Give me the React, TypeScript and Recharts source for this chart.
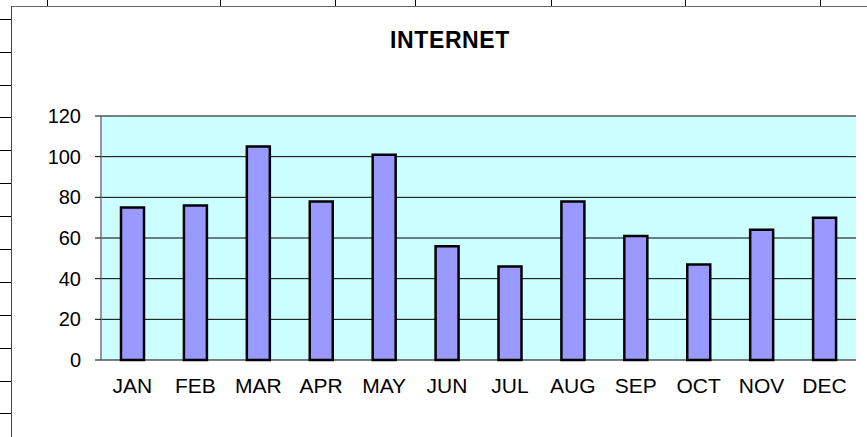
import { BarChart, Bar, XAxis, YAxis, CartesianGrid } from 'recharts'

const months = ['JAN', 'FEB', 'MAR', 'APR', 'MAY', 'JUN', 'JUL', 'AUG', 'SEP', 'OCT', 'NOV', 'DEC']
const internet = [75, 76, 105, 78, 101, 56, 46, 78, 61, 47, 64, 70]
const yTicks = [0, 20, 40, 60, 80, 100, 120]

const data = months.map((month, i) => ({ month, internet: internet[i] }))
// category boundaries for the tick marks between months
const boundaryTicks = [...months.map((_, i) => i), months.length]

// spreadsheet cell lines peeking out round the chart object
const sheetRows = [19, 52, 85, 117, 150, 183, 216, 249, 282, 315, 348, 381, 413]
const sheetCols = [47, 220, 335, 415, 551, 685, 820]

const font = '"Liberation Sans", Arial, sans-serif'

export default function App() {
  return (
    <div style={{ position: 'absolute', left: 0, top: 0, width: 867, height: 437, overflow: 'hidden', background: '#fff', fontFamily: font }}>
      {sheetRows.map((y) => (
        <div key={'r' + y} style={{ position: 'absolute', left: 0, top: y, width: 11, height: 1, background: '#000' }} />
      ))}
      {sheetCols.map((x) => (
        <div key={'c' + x} style={{ position: 'absolute', left: x, top: 0, width: 1, height: 6, background: '#000' }} />
      ))}
      <div style={{ position: 'absolute', left: 11, top: 6, width: 900, height: 500, borderLeft: '1px solid #444', borderTop: '1px solid #666' }} />
      <div style={{ position: 'absolute', left: 350, top: 29, width: 200, textAlign: 'center', fontWeight: 'bold', fontSize: 23, lineHeight: '23px', letterSpacing: 0.6 }}>
        INTERNET
      </div>
      <BarChart
        width={867}
        height={437}
        data={data}
        margin={{ top: 116, right: 11, left: 0, bottom: 47 }}
        style={{ position: 'absolute', left: 0, top: 0 }}
      >
        <CartesianGrid vertical={false} fill="#CCFFFF" stroke="#000" strokeOpacity={1} />
        <XAxis
          xAxisId="edges"
          type="number"
          domain={[0, months.length]}
          ticks={boundaryTicks}
          tick={false}
          tickSize={6}
          height={0}
          axisLine={{ stroke: '#777', strokeWidth: 1.5 }}
          tickLine={{ stroke: '#444' }}
        />
        <XAxis
          xAxisId="cat"
          dataKey="month"
          height={30}
          axisLine={false}
          tickLine={false}
          tickSize={0}
          tickMargin={18}
          interval={0}
          tick={{ fill: '#000', fontSize: 21, fontFamily: font }}
        />
        <YAxis
          domain={[0, 120]}
          ticks={yTicks}
          width={101}
          tickSize={6}
          tickMargin={14}
          axisLine={{ stroke: '#777', strokeWidth: 1.5 }}
          tickLine={{ stroke: '#000' }}
          tick={{ fill: '#000', fontSize: 20, fontFamily: font }}
        />
        <YAxis
          yAxisId="edge"
          orientation="right"
          width={0}
          tick={false}
          tickLine={false}
          axisLine={{ stroke: '#888', strokeWidth: 1.5 }}
        />
        <Bar
          dataKey="internet"
          xAxisId="cat"
          fill="#9999FF"
          stroke="#000"
          strokeWidth={2.5}
          barSize={23}
          isAnimationActive={false}
        />
      </BarChart>
    </div>
  )
}
